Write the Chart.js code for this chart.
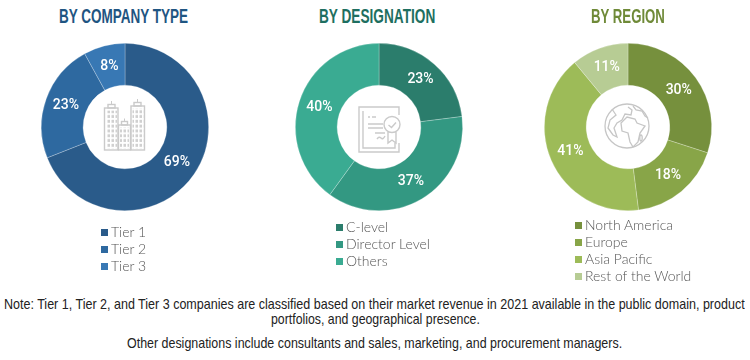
<!DOCTYPE html>
<html lang="en">
<head>
<meta charset="UTF-8">
<title>Breakdown of primaries</title>
<script src="https://cdn.jsdelivr.net/npm/chart.js"></script>
<style>
  html, body { margin: 0; padding: 0; background: #fff; }
  #page { position: relative; width: 750px; height: 360px; overflow: hidden; }
  canvas { position: absolute; top: 27px; }
  .titulo { position: absolute; top: 5px; font: bold 20px "Liberation Sans", sans-serif; line-height: 22px; white-space: nowrap; transform-origin: 0 0; }
  .icone { position: absolute; }
  .legenda { position: absolute; font: 300 14px Lato, sans-serif; color: #555; line-height: 17px; white-space: nowrap; }
  .legenda i { display: inline-block; width: 7px; height: 7px; margin-right: 3px; vertical-align: 1px; }
  .nota { position: absolute; font: 14.500px "Liberation Sans", sans-serif; color: #222; line-height: 16px; white-space: nowrap; transform-origin: 0 0; }
</style>
</head>
<body>
<div id="page">
  <canvas id="graficoTipo" width="200" height="200" style="left:25px"></canvas>
  <canvas id="graficoCargo" width="200" height="200" style="left:279px"></canvas>
  <canvas id="graficoRegiao" width="200" height="200" style="left:528px"></canvas>

  <!-- icones do centro -->
  <svg class="icone" style="left:95px;top:95px" width="60" height="60" fill="none" stroke="#cacaca" stroke-width="1.4">
    <defs>
      <pattern id="janelas" width="4" height="4.800" patternUnits="userSpaceOnUse">
        <rect x="0.500" y="0.800" width="2.500" height="3" fill="#d0d0d0" stroke="none"/>
      </pattern>
    </defs>
    <rect x="9.500" y="13" width="13.500" height="42"/><rect x="36" y="11" width="13.500" height="44"/><rect x="23.500" y="30" width="12" height="25"/>
    <rect x="13" y="9.500" width="7" height="3.500"/><rect x="39" y="7.500" width="7" height="3.500"/><rect x="26.500" y="26.500" width="6" height="3.500"/>
    <path d="M16.500 9.500V6M42.500 7.500V4M29.500 26.500V23.500" stroke-width="1"/>
    <rect x="11" y="15.500" width="11" height="38" fill="url(#janelas)" stroke="none"/>
    <rect x="37.500" y="13.500" width="11" height="40" fill="url(#janelas)" stroke="none"/>
    <rect x="25" y="32.500" width="9" height="21" fill="url(#janelas)" stroke="none"/>
  </svg>
  <svg class="icone" style="left:350px;top:100px" width="60" height="60" fill="none" stroke="#cacaca" stroke-width="1.4">
    <path d="M35 7H9V52H49V43M49 15V7H35"/><path d="M13 11V48H45V43"/>
    <path d="M18 17H20M22 17H26M18 24H33M18 28H33M25 33H35M27 39q2-3 4-1t4-2"/>
    <circle cx="42" cy="24.500" r="8"/><path d="M38.500 25l3 2.500 4.500-5M38 32V43l4-3 4 3V32"/>
  </svg>
  <svg class="icone" style="left:600px;top:100px" width="60" height="50" fill="none" stroke="#c6c6c6" stroke-width="1.300">
    <circle cx="27" cy="26" r="22"/>
    <path d="M21 23l6-6 8 2 2 4 8 3-5 7-2 9-5 5-3-5-2-9-6-2z"/>
    <path d="M12 9l4 6-6 5-2 8 5 7 4 2-3-9 3-5 5-3 3-6 6 1 1-5-4-3"/>
    <path d="M33 6l3 4 6 1 3 5 3 2"/>
    <ellipse cx="41" cy="38" rx="1.200" ry="3"/>
  </svg>

  <div class="nota" id="nota1" style="left:4px;top:296px">Note: Tier 1, Tier 2, and Tier 3 companies are classified based on their market revenue in 2021 available in the public domain, product</div>
  <div class="nota" id="nota2" style="left:271px;top:311px">portfolios, and geographical presence.</div>
  <div class="nota" id="nota3" style="left:127px;top:335px">Other designations include consultants and sales, marketing, and procurement managers.</div>
</div>

<script>
  // Dados de cada rosca
  const tipoLabels = ['Tier 1', 'Tier 2', 'Tier 3'];
  const tipoValores = [69, 23, 8];
  const cargoLabels = ['C-level', 'Director Level', 'Others'];
  const cargoValores = [23, 37, 40];
  const regiaoLabels = ['North America', 'Europe', 'Asia Pacific', 'Rest of the World'];
  const regiaoValores = [30, 18, 41, 11];

  const tipoCores = ['#2a5b8a', '#2e69a0', '#3878b4'];
  const cargoCores = ['#2b7d6c', '#339882', '#3aab92'];
  const regiaoCores = ['#76903d', '#88a548', '#9dbb58', '#b7cc94'];

  // Escreve o percentual no meio de cada fatia
  const rotulosFatia = {
    id: 'rotulosFatia',
    afterDatasetsDraw(chart) {
      const c = chart.ctx;
      const dados = chart.data.datasets[0].data;
      c.save();
      c.fillStyle = '#fff';
      c.font = '500 14px Roboto, sans-serif';
      c.textAlign = 'center';
      c.textBaseline = 'middle';
      chart.getDatasetMeta(0).data.forEach((arco, i) => {
        const p = arco.tooltipPosition();
        c.fillText(dados[i] + '%', p.x, p.y);
      });
      c.restore();
    }
  };

  function criarRosca(id, labels, valores, cores) {
    new Chart(document.getElementById(id), {
      type: 'doughnut',
      data: {
        labels: labels,
        datasets: [{
          data: valores,
          backgroundColor: cores,
          borderColor: 'rgba(255, 255, 255, 0.35)',
          borderWidth: 0.7
        }]
      },
      options: {
        responsive: false,
        animation: false,
        cutout: '50%',
        layout: { padding: 16 },
        plugins: { legend: { display: false }, tooltip: { enabled: false } }
      },
      plugins: [rotulosFatia]
    });
  }

  // A fonte do original e condensada: aperta o texto ate a largura dele
  function ajustarLargura(el, largura) {
    el.style.transform = 'scaleX(' + (largura / el.offsetWidth) + ')';
  }

  function criarTitulo(texto, x, largura, cor) {
    const d = document.createElement('div');
    d.className = 'titulo';
    d.textContent = texto;
    d.style.left = x + 'px';
    d.style.color = cor;
    document.getElementById('page').appendChild(d);
    ajustarLargura(d, largura);
  }

  function criarLegenda(labels, cores, x, y) {
    const d = document.createElement('div');
    d.className = 'legenda';
    d.style.left = x + 'px';
    d.style.top = y + 'px';
    labels.forEach((texto, i) => {
      const linha = document.createElement('div');
      const q = document.createElement('i');
      q.style.background = cores[i];
      linha.appendChild(q);
      linha.appendChild(document.createTextNode(texto));
      d.appendChild(linha);
    });
    document.getElementById('page').appendChild(d);
  }

  criarRosca('graficoTipo', tipoLabels, tipoValores, tipoCores);
  criarRosca('graficoCargo', cargoLabels, cargoValores, cargoCores);
  criarRosca('graficoRegiao', regiaoLabels, regiaoValores, regiaoCores);

  criarTitulo('BY COMPANY TYPE', 59, 129, '#1f5582');
  criarTitulo('BY DESIGNATION', 319, 116, '#1e6f60');
  criarTitulo('BY REGION', 591, 74, '#6f8a38');

  criarLegenda(tipoLabels, tipoCores, 101, 223);
  criarLegenda(cargoLabels, cargoCores, 336, 218);
  criarLegenda(regiaoLabels, regiaoCores, 575, 216);

  ajustarLargura(document.getElementById('nota1'), 741);
  ajustarLargura(document.getElementById('nota2'), 209);
  ajustarLargura(document.getElementById('nota3'), 495);
</script>
</body>
</html>
